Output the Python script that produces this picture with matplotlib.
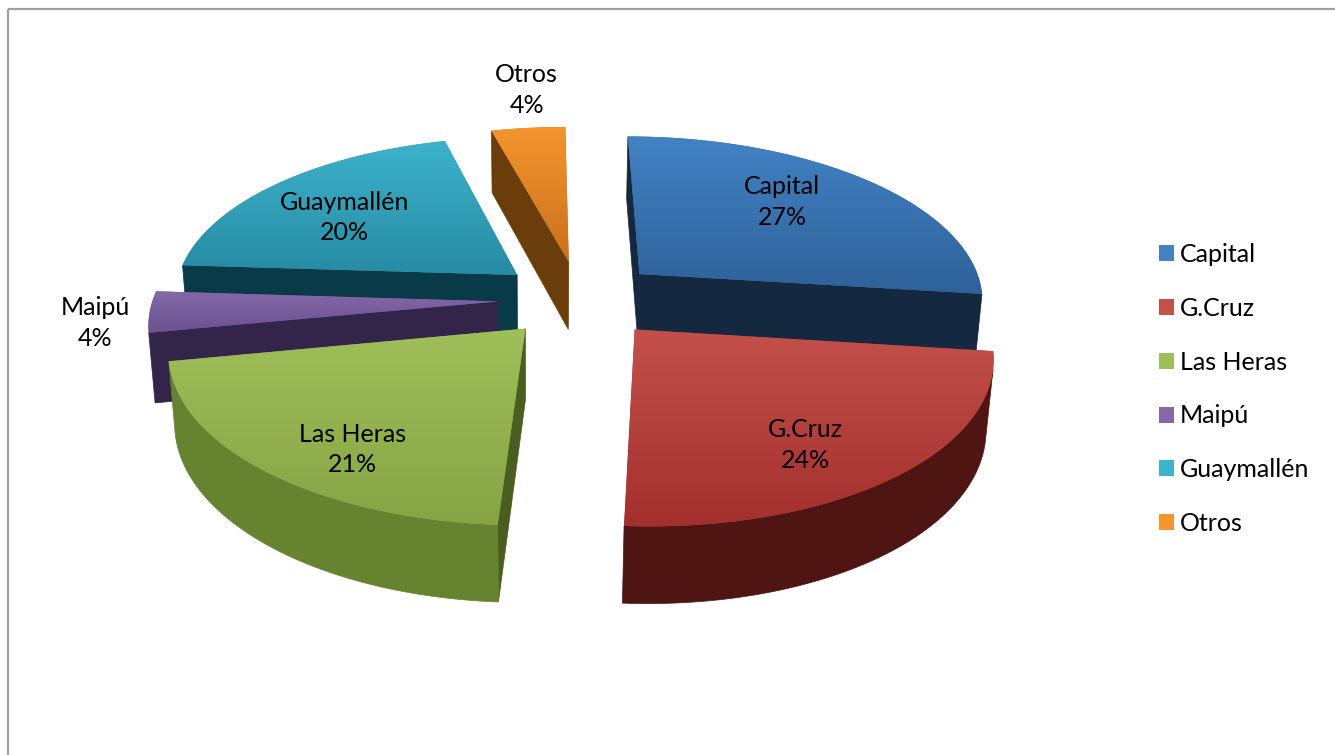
import numpy as np
import matplotlib.pyplot as plt
from matplotlib.patches import Polygon, Rectangle, Patch
from matplotlib.colors import LinearSegmentedColormap

# share of each department
labels = ["Capital", "G.Cruz", "Las Heras", "Maipú", "Guaymallén", "Otros"]
values = [27, 24, 21, 4, 20, 4]

# face colours: top gradient (light -> dark) and side walls
top_light = ["#4282C5", "#C4504C", "#9FBF5A", "#8468A8", "#3DB2CB", "#F4952E"]
top_dark = ["#2F6198", "#A3302C", "#86A444", "#6B518F", "#268BA3", "#C9701C"]
side_colors = ["#14283F", "#4E1512", "#66842F", "#33244A", "#083A48", "#6B3D0A"]
front_colors = ["#14283F", "#4E1512", "#4B5E22", "#33244A", "#083A48", "#6B3D0A"]

# where the value labels sit (fraction of radius, turn in degrees)
label_radius = [0.68, 0.75, 0.785, 1.15, 0.665, 1.33]
label_turn = [-5, 5.7, -7.1, -3, -4, 1.5]

# view of the 3D pie
SCALE, ELEV, DIST = 345, np.radians(28), 6.66
CX, CY, XC = 580, 299, -0.12
EXPLODE, DEPTH = 0.238, 0.23
FS = 18

cam = np.array([XC, -DIST * np.cos(ELEV), DIST * np.sin(ELEV)])


def proj(x, y, z):
    x, y, z = np.broadcast_arrays(np.asarray(x, float), np.asarray(y, float), np.asarray(z, float))
    v = y * np.sin(ELEV) + z * np.cos(ELEV)
    w = y * np.cos(ELEV) - z * np.sin(ELEV)
    s = DIST / (DIST + w)
    return np.column_stack([CX + SCALE * ((x - XC) * s + XC), CY - SCALE * v * s])


fig = plt.figure(figsize=(13.35, 7.55), dpi=100)
ax = fig.add_axes([0, 0, 1, 1])
ax.axis("off")

# chart frame
ax.add_patch(Rectangle((8, 9), 1400, 800, facecolor="none", edgecolor="#A0A0A0", lw=1.6, zorder=0))

fractions = np.array(values) / sum(values)
edges = np.radians(np.concatenate([[0], np.cumsum(fractions)]) * 360)
mids = (edges[:-1] + edges[1:]) / 2

order = np.argsort(-np.cos(mids))
zo = 1
for i in order:
    t1, t2, m = edges[i], edges[i + 1], mids[i]
    ox, oy = EXPLODE * np.sin(m), EXPLODE * np.cos(m)
    th = np.linspace(t1, t2, max(10, int(np.degrees(t2 - t1) * 2)))
    ax_, ay_ = ox + np.sin(th), oy + np.cos(th)

    # radial faces
    for ang, sign in ((t1, -1), (t2, 1)):
        n = sign * np.array([np.cos(ang), -np.sin(ang), 0.0])
        p = np.array([ox + 0.5 * np.sin(ang), oy + 0.5 * np.cos(ang), -DEPTH / 2])
        if n @ (cam - p) > 0:
            xs = [ox, ox + np.sin(ang), ox + np.sin(ang), ox]
            ys = [oy, oy + np.cos(ang), oy + np.cos(ang), oy]
            zs = [0, 0, -DEPTH, -DEPTH]
            ax.add_patch(Polygon(proj(xs, ys, zs), closed=True, facecolor=front_colors[i],
                                 edgecolor=front_colors[i], lw=0.5, zorder=zo))
            zo += 1

    # outer wall, only the part facing the viewer
    vis = np.sin(th) * (cam[0] - ax_) + np.cos(th) * (cam[1] - ay_) > 0
    idx = np.where(vis)[0]
    if len(idx) > 1:
        for run in np.split(idx, np.where(np.diff(idx) > 1)[0] + 1):
            if len(run) < 2:
                continue
            top = proj(ax_[run], ay_[run], 0)
            bot = proj(ax_[run], ay_[run], -DEPTH)
            ax.add_patch(Polygon(np.vstack([top, bot[::-1]]), closed=True, facecolor=side_colors[i],
                                 edgecolor=side_colors[i], lw=0.5, zorder=zo))
            zo += 1

    # top face with a vertical gradient
    pts = proj(np.concatenate([[ox], ax_]), np.concatenate([[oy], ay_]), 0)
    face = Polygon(pts, closed=True, facecolor=top_dark[i], edgecolor="none", zorder=zo)
    ax.add_patch(face)
    cmap = LinearSegmentedColormap.from_list("g%d" % i, [top_light[i], top_dark[i]])
    grad = np.linspace(0, 1, 256)[:, None]
    im = ax.imshow(grad, cmap=cmap, extent=(pts[:, 0].min(), pts[:, 0].max(), pts[:, 1].max(), pts[:, 1].min()),
                   origin="upper", aspect="auto", interpolation="bilinear", zorder=zo)
    im.set_clip_path(face)
    zo += 1

# value labels
for i in range(len(values)):
    a = mids[i] + np.radians(label_turn[i])
    ox, oy = EXPLODE * np.sin(mids[i]), EXPLODE * np.cos(mids[i])
    r = label_radius[i]
    x, y = proj(ox + r * np.sin(a), oy + r * np.cos(a), 0)[0]
    ax.text(x, y, "%s\n%d%%" % (labels[i], round(fractions[i] * 100)), ha="center", va="center",
            fontsize=FS, family="Lato", linespacing=1.41, zorder=200)

handles = [Patch(facecolor=c, edgecolor="none") for c in top_light]
ax.legend(handles, labels, loc="center left", bbox_to_anchor=(1159, 389), bbox_transform=ax.transData,
          frameon=False, prop={"family": "Lato", "size": FS}, handlelength=0.6, handleheight=0.6,
          handletextpad=0.25, labelspacing=1.23, borderpad=0, borderaxespad=0)

ax.set_xlim(0, 1335)
ax.set_ylim(755, 0)

plt.savefig("out.png", dpi=100)
